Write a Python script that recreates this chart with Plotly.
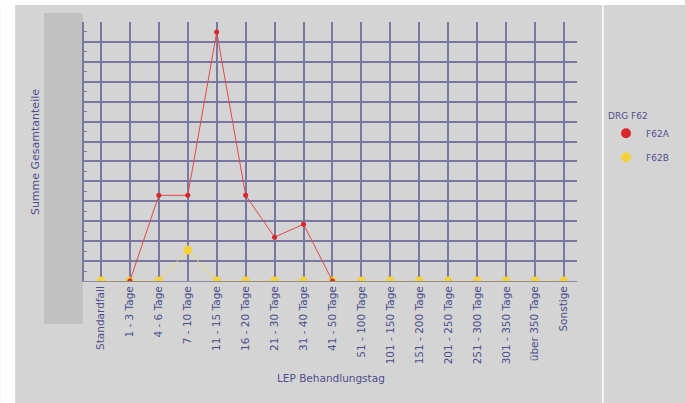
import plotly.graph_objects as go

W, H = 686, 403
PLOT_L, PLOT_R, PLOT_T, PLOT_B = 84, 578, 22, 281

categories = [
    "Standardfall", "1 - 3 Tage", "4 - 6 Tage", "7 - 10 Tage", "11 - 15 Tage",
    "16 - 20 Tage", "21 - 30 Tage", "31 - 40 Tage", "41 - 50 Tage",
    "51 - 100 Tage", "101 - 150 Tage", "151 - 200 Tage", "201 - 250 Tage",
    "251 - 300 Tage", "301 - 350 Tage", "über 350 Tage", "Sonstige",
]
f62a = [None, 0, 4.3, 4.3, 12.5, 4.3, 2.2, 2.85, 0,
        None, None, None, None, None, None, None, None]
f62b = [0, 0, 0, 1.55, 0, 0, 0, 0, 0, 0, 0, 0, 0, 0, 0, 0, 0]

BG = "#d4d4d4"
BLOCK = "#c1c1c1"
GRID = "#7878a0"
TXT = "#4e4e8c"
RED = "#d8262a"
YEL = "#f4d23c"
FONT = "DejaVu Sans"


def px_x(px):
    return (px - PLOT_L) / (PLOT_R - PLOT_L)


def px_y(py):
    return (PLOT_B - py) / (PLOT_B - PLOT_T)


fig = go.Figure()
fig.add_trace(go.Scatter(
    x=categories, y=f62b, name="F62B", mode="lines+markers",
    line=dict(color="#f2dc6a", width=1),
    marker=dict(size=9, color=YEL), showlegend=False,
))
fig.add_trace(go.Scatter(
    x=categories, y=f62a, name="F62A", mode="lines+markers",
    line=dict(color="#e04a4a", width=1),
    marker=dict(size=5, color=RED), showlegend=False,
))
# legend-only entries (circle symbols, no line)
fig.add_trace(go.Scatter(x=[None], y=[None], name="F62A", mode="markers",
                         marker=dict(size=10, color=RED), legendgroup="a"))
fig.add_trace(go.Scatter(x=[None], y=[None], name="F62B", mode="markers",
                         marker=dict(size=10, color=YEL), legendgroup="b"))

shapes = [
    # white outer margin strips
    dict(type="rect", xref="paper", yref="paper", x0=px_x(0), x1=px_x(15),
         y0=px_y(H), y1=px_y(0), fillcolor="white", line_width=0, layer="below"),
    dict(type="rect", xref="paper", yref="paper", x0=px_x(0), x1=px_x(W),
         y0=px_y(5), y1=px_y(0), fillcolor="white", line_width=0, layer="below"),
    # grey block left of the plot
    dict(type="rect", xref="paper", yref="paper", x0=px_x(44), x1=px_x(83),
         y0=px_y(324), y1=px_y(13), fillcolor=BLOCK, line_width=0, layer="below"),
    # white separator before legend
    dict(type="line", xref="paper", yref="paper", x0=px_x(604), x1=px_x(604),
         y0=px_y(H), y1=px_y(5), line=dict(color="#f4f4f4", width=2)),
]

annotations = [
    dict(text="Summe Gesamtanteile", xref="paper", yref="paper",
         x=px_x(35), y=px_y(152), xanchor="center", yanchor="middle",
         textangle=-90, showarrow=False,
         font=dict(family=FONT, size=11, color=TXT)),
    dict(text="LEP Behandlungstag", xref="paper", yref="paper",
         x=0.5, y=px_y(378), xanchor="center", yanchor="middle", showarrow=False,
         font=dict(family=FONT, size=10.5, color=TXT)),
]

fig.update_layout(
    width=W, height=H,
    margin=dict(l=PLOT_L, r=W - PLOT_R, t=PLOT_T, b=H - PLOT_B),
    paper_bgcolor=BG, plot_bgcolor=BG,
    shapes=shapes, annotations=annotations,
    showlegend=True,
    legend=dict(
        title=dict(text="DRG F62", font=dict(family=FONT, size=9, color=TXT)),
        x=px_x(606), y=px_y(107), xanchor="left", yanchor="top",
        font=dict(family=FONT, size=9, color=TXT),
        bgcolor="rgba(0,0,0,0)", tracegroupgap=5,
        itemwidth=30,
    ),
)
fig.update_xaxes(
    type="category", range=[-0.586, 16.45],
    showgrid=True, gridcolor=GRID, gridwidth=1.5,
    showline=True, linecolor="#8a8aa4", linewidth=1,
    tickangle=-90, ticks="",
    tickfont=dict(family=FONT, size=10.5, color=TXT),
    zeroline=False,
)
fig.update_yaxes(
    range=[0, 13], dtick=1, showticklabels=False,
    showgrid=True, gridcolor=GRID, gridwidth=1.5,
    showline=True, linecolor=GRID, linewidth=1.5,
    zeroline=False,
    minor=dict(dtick=0.5, ticks="inside", ticklen=3, tickcolor=GRID, showgrid=False),
)

fig.write_html("out.html", config={"displayModeBar": False},
               post_script="document.body.style.margin='0';")
